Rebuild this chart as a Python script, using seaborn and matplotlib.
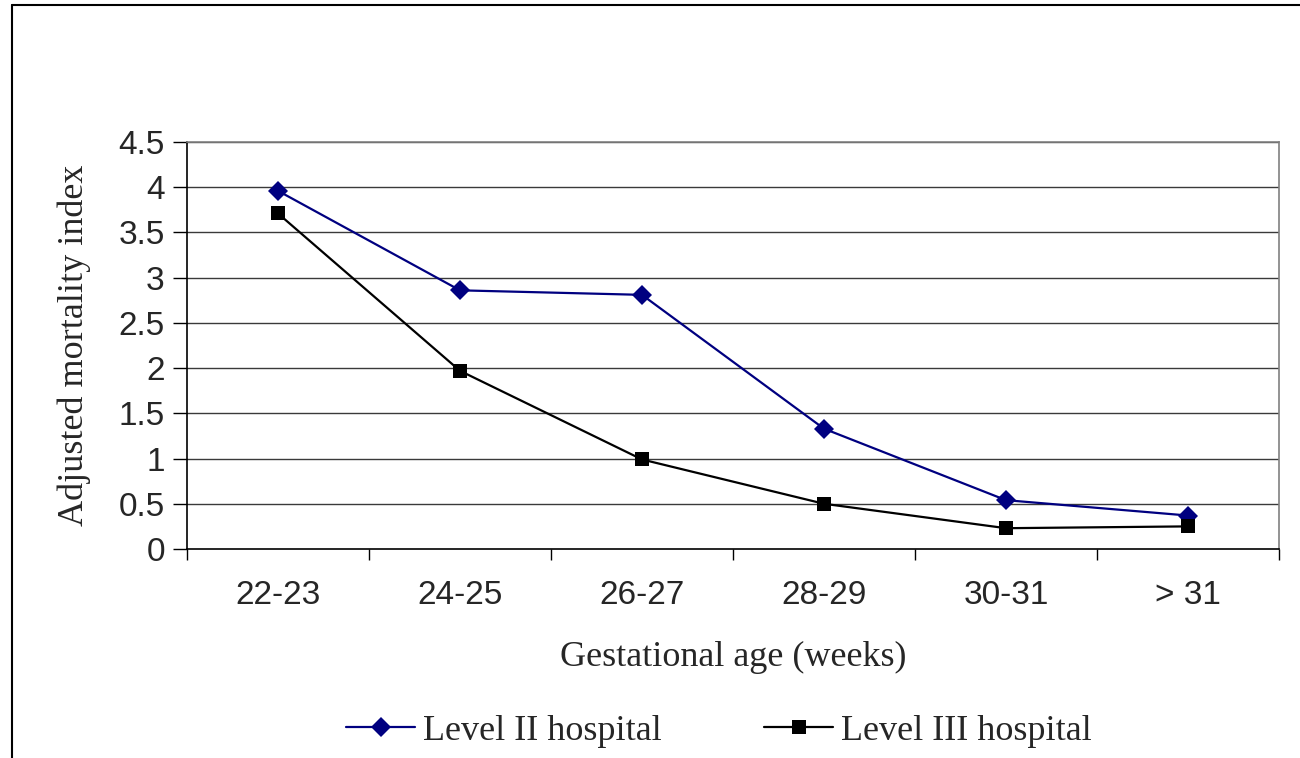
import matplotlib
matplotlib.use("Agg")
import matplotlib.pyplot as plt
import seaborn as sns
import pandas as pd
import numpy as np
from matplotlib.lines import Line2D

categories = ["22-23", "24-25", "26-27", "28-29", "30-31", "> 31"]
level2 = [3.96, 2.86, 2.81, 1.33, 0.54, 0.37]
level3 = [3.71, 1.97, 0.99, 0.50, 0.23, 0.25]
series_names = ["Level II hospital", "Level III hospital"]
yticks = [0, 0.5, 1, 1.5, 2, 2.5, 3, 3.5, 4, 4.5]
ytick_labels = ["0", "0.5", "1", "1.5", "2", "2.5", "3", "3.5", "4", "4.5"]

df = pd.DataFrame({
    "cat": categories * 2,
    "value": level2 + level3,
    "series": [series_names[0]] * len(categories) + [series_names[1]] * len(categories),
})
df["pos"] = df["cat"].map({c: i for i, c in enumerate(categories)})

sns.set_theme(style="white")
plt.rcParams["font.family"] = ["Liberation Sans", "DejaVu Sans"]

fig = plt.figure(figsize=(13, 7.58), dpi=100)
ax = fig.add_axes([187/1300, 1-549/758, (1279-187)/1300, (549-142)/758])

sns.lineplot(data=df, x="pos", y="value", hue="series", style="series",
             palette={series_names[0]: "#000080", series_names[1]: "#000000"},
             markers={series_names[0]: "D", series_names[1]: "s"},
             dashes=False, markersize=10, linewidth=1.6,
             markeredgewidth=0, ax=ax, legend=False)

# gridlines
for y in yticks[1:]:
    ax.axhline(y, color="#3a3a3a", linewidth=1.0, zorder=0)

ax.set_xlim(-0.5, len(categories) - 0.5)
ax.set_ylim(0, 4.5)
ax.set_yticks(yticks)
ax.set_yticklabels(ytick_labels, fontsize=24)
ax.set_xticks(np.arange(len(categories) + 1) - 0.5)
ax.set_xticklabels([""] * (len(categories) + 1))
ax.set_xticks(np.arange(len(categories)), minor=True)
ax.set_xticklabels(categories, minor=True, fontsize=24)
ax.tick_params(axis="x", which="minor", length=0, pad=22)
ax.tick_params(axis="x", which="major", length=8, width=1, color="black", direction="out", bottom=True)
ax.tick_params(axis="y", length=10, width=1, color="black", direction="out", left=True, pad=6)

for s in ["left", "bottom"]:
    ax.spines[s].set_color("black")
    ax.spines[s].set_linewidth(1.2)
ax.spines["right"].set_color("#808080")
ax.spines["top"].set_color("#808080")
ax.spines["right"].set_linewidth(1.2)
ax.spines["top"].set_linewidth(1.2)

ax.set_xlabel("Gestational age (weeks)", family=["Liberation Serif"], fontsize=26, labelpad=22)
ax.set_ylabel("Adjusted mortality index", family=["Liberation Serif"], fontsize=26, labelpad=20)

handles = [
    Line2D([0], [0], color="#000080", marker="D", markersize=10, linewidth=1.6, markeredgewidth=0),
    Line2D([0], [0], color="#000000", marker="s", markersize=10, linewidth=1.6, markeredgewidth=0),
]
fig.legend(handles, series_names, loc="center", bbox_to_anchor=(719/1300, 1-731/758),
           ncol=2, frameon=False, prop={"family": "Liberation Serif", "size": 26},
           handlelength=1.9, handletextpad=0.22, columnspacing=2.85, borderpad=0)

# outer frame (left and top edges visible)
fig.add_artist(Line2D([12/1300, 12/1300], [0, 1-5/758], transform=fig.transFigure, color="black", linewidth=1.5))
fig.add_artist(Line2D([12/1300, 1], [1-5/758, 1-5/758], transform=fig.transFigure, color="black", linewidth=1.5))

fig.savefig("out.png", dpi=100, facecolor="white")
